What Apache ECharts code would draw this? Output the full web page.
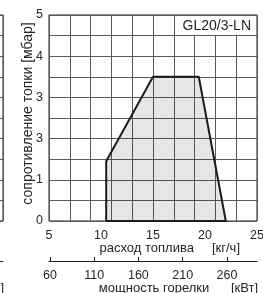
<!DOCTYPE html>
<html>
<head>
<meta charset="utf-8">
<script src="https://cdn.jsdelivr.net/npm/echarts@6/dist/echarts.min.js"></script>
<style>html,body{margin:0;padding:0;background:#fff}#c{width:263px;height:293px}</style>
</head>
<body>
<div id="c"></div>
<script>
// ---- data ----
const modelName = 'GL20/3-LN';
const fuelFlow = [10.5, 10.5, 15, 19.4, 22, 10.5];      // kg/h
const resistance = [0, 1.45, 3.5, 3.5, 0, 0];          // mbar
const yTickValues = [0, 1, 2, 3, 4, 5];
const yTickLabels = ['0', '1', '3', '3', '4', '5'];
const flowTickLabels = [5, 10, 15, 20, 25];
const powerTickLabels = [60, 110, 160, 210, 260];
const yName = 'сопротивление топки [мбар]';
const flowName = 'расход топлива     [кг/ч]';
const powerName = 'мощность горелки      [кВт]';

const FONT = 'Liberation Sans, Arial, sans-serif';
const TXT = '#262626';
const GRIDC = '#5a5a5a';
const FRAME = '#222';

const chart = echarts.init(document.getElementById('c'), null, {renderer: 'canvas'});
const yFmt = v => { const i = yTickValues.indexOf(v); return i >= 0 ? yTickLabels[i] : ''; };

chart.setOption({
  animation: false,
  textStyle: {fontFamily: FONT, color: TXT},
  title: {
    text: modelName, right: 7, top: 16,
    backgroundColor: '#fff', padding: [2, 5, 1, 6],
    textStyle: {fontFamily: FONT, fontSize: 14, fontWeight: 'normal', color: TXT, lineHeight: 16}
  },
  grid: [
    {left: 49, top: 15, width: 208, height: 206, show: true, borderColor: FRAME, borderWidth: 1,
     backgroundColor: 'transparent', outerBoundsMode: 'none', containLabel: false},
    {left: -205, top: 15, width: 208, height: 206, show: true, borderColor: FRAME, borderWidth: 1,
     backgroundColor: 'transparent', outerBoundsMode: 'none', containLabel: false}
  ],
  xAxis: [
    {type: 'value', gridIndex: 0, min: 5, max: 25, interval: 2, position: 'bottom',
     axisLine: {show: false}, axisTick: {show: false}, axisLabel: {show: false},
     splitLine: {show: true, lineStyle: {color: GRIDC, width: 1}}},
    {type: 'value', gridIndex: 0, min: 5, max: 25, interval: 5, position: 'bottom', offset: 0,
     axisLine: {show: false}, axisTick: {show: false}, splitLine: {show: false},
     axisLabel: {show: true, margin: 8, fontSize: 12.5, color: TXT, fontFamily: FONT,
                 customValues: flowTickLabels},
     name: flowName, nameLocation: 'end', nameGap: -17, nameMoveOverlap: false,
     nameTextStyle: {fontSize: 13, color: TXT, fontFamily: FONT, align: 'right', verticalAlign: 'top', padding: [21, 0, 0, 0]}},
    {type: 'value', gridIndex: 0, min: 59, max: 294, position: 'bottom', offset: 40,
     axisLine: {show: true, lineStyle: {color: FRAME, width: 1}},
     axisTick: {show: true, inside: true, length: 4, lineStyle: {color: FRAME}, customValues: powerTickLabels},
     axisLabel: {show: true, margin: 8, fontSize: 12.5, color: TXT, fontFamily: FONT, customValues: powerTickLabels},
     splitLine: {show: false},
     name: powerName, nameLocation: 'end', nameGap: 1, nameMoveOverlap: false,
     nameTextStyle: {fontSize: 13, color: TXT, fontFamily: FONT, align: 'right', verticalAlign: 'top', padding: [21, 0, 0, 0]}},
    // neighbouring (cropped) chart on the left
    {type: 'value', gridIndex: 1, min: 5, max: 25, interval: 2,
     axisLine: {show: false}, axisTick: {show: false}, axisLabel: {show: false},
     splitLine: {show: true, lineStyle: {color: GRIDC, width: 1}}},
    {type: 'value', gridIndex: 1, min: 59, max: 294, position: 'bottom', offset: 40,
     axisLine: {show: true, lineStyle: {color: FRAME, width: 1}},
     axisTick: {show: false}, axisLabel: {show: false}, splitLine: {show: false},
     name: '[кВт]', nameLocation: 'end', nameGap: 1, nameMoveOverlap: false,
     nameTextStyle: {fontSize: 13, color: TXT, fontFamily: FONT, align: 'right', verticalAlign: 'top', padding: [21, 0, 0, 0]}}
  ],
  yAxis: [
    {type: 'value', gridIndex: 0, min: 0, max: 5, interval: 0.5,
     axisLine: {show: false}, axisTick: {show: false},
     axisLabel: {show: true, margin: 6, fontSize: 12.5, color: TXT, fontFamily: FONT, formatter: yFmt},
     splitLine: {show: true, lineStyle: {color: GRIDC, width: 1}},
     name: yName, nameLocation: 'middle', nameGap: 14, nameRotate: 90, nameMoveOverlap: false,
     nameTextStyle: {fontSize: 14, color: TXT, fontFamily: FONT, padding: [0, 0, 0, 9]}},
    {type: 'value', gridIndex: 1, min: 0, max: 5, interval: 0.5,
     axisLine: {show: false}, axisTick: {show: false}, axisLabel: {show: false},
     splitLine: {show: true, lineStyle: {color: GRIDC, width: 1}}}
  ],
  series: [{
    type: 'line', xAxisIndex: 0, yAxisIndex: 0,
    data: fuelFlow.map((x, i) => [x, resistance[i]]),
    symbol: 'none', silent: true,
    lineStyle: {color: '#1c1c1c', width: 2, join: 'round'},
    areaStyle: {color: 'rgba(0,0,0,0.14)', origin: 0}
  }]
});
</script>
</body>
</html>
